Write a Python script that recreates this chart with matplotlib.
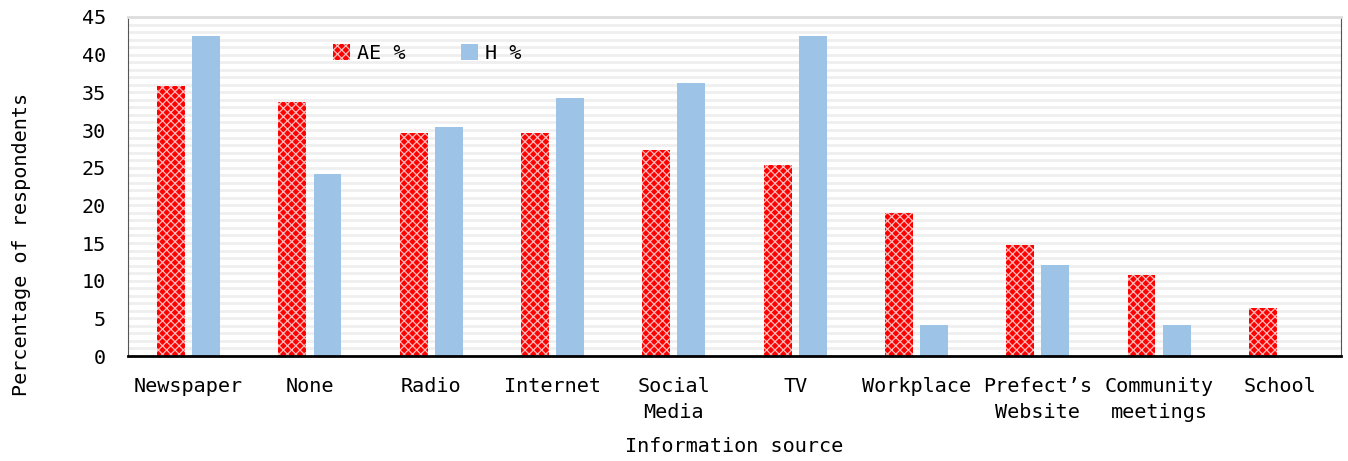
import numpy as np
import matplotlib.pyplot as plt

plt.rcParams['font.family'] = ['DejaVu Sans Mono']
plt.rcParams['hatch.linewidth'] = 0.9

sources = ['Newspaper', 'None', 'Radio', 'Internet', 'Social\nMedia', 'TV',
           'Workplace', 'Prefect\u2019s\nWebsite', 'Community\nmeetings', 'School']
ae_pct = [35.8, 33.7, 29.6, 29.6, 27.4, 25.3, 19.0, 14.8, 10.7, 6.4]
h_pct = [42.5, 24.2, 30.4, 34.3, 36.3, 42.5, 4.1, 12.1, 4.1, 0.0]

x = np.arange(len(sources))
w = 0.23

fig = plt.figure(figsize=(13.48, 4.61), dpi=100)
ax = fig.add_axes([128/1348, 1-356/461, (1341-128)/1348, (356-17)/461])

# light horizontal gridlines every unit
for v in range(1, 46):
    ax.axhline(v, color='#efefef', lw=2, zorder=0)

ax.bar(x - 0.145, ae_pct, w, color='#ff0000', edgecolor='#ffbcbc', hatch='xxxx',
       lw=0, label='AE %', zorder=2)
ax.bar(x + 0.145, h_pct, w, color='#9dc3e6', lw=0, label='H %', zorder=2)

ax.set_xlim(-0.5, len(sources) - 0.5)
ax.set_ylim(0, 45)
ax.set_yticks(range(0, 46, 5))
ax.set_xticks(x)
ax.set_xticklabels(sources, fontsize=14.5, linespacing=1.45)
ax.tick_params(axis='y', labelsize=14.5, length=0, pad=16)
ax.tick_params(axis='x', length=0, pad=15)

ax.spines['bottom'].set_linewidth(2)
ax.spines['bottom'].set_color('black')
ax.spines['left'].set_color('#555555')
ax.spines['right'].set_color('#555555')
ax.spines['top'].set_color('#dddddd')
ax.spines['top'].set_linewidth(2)

ax.set_xlabel('Information source', fontsize=14.5)
ax.xaxis.set_label_coords(0.5, -0.24)
ax.set_ylabel('Percentage of respondents', fontsize=14.5)
ax.yaxis.set_label_coords(-0.08, 0.33)

ax.legend(loc='upper left', bbox_to_anchor=(0.154, 0.975), ncol=2, frameon=False,
          fontsize=14.5, handlelength=0.85, handleheight=0.85, columnspacing=2.75,
          handletextpad=0.35)

fig.savefig('out.png', dpi=100)
